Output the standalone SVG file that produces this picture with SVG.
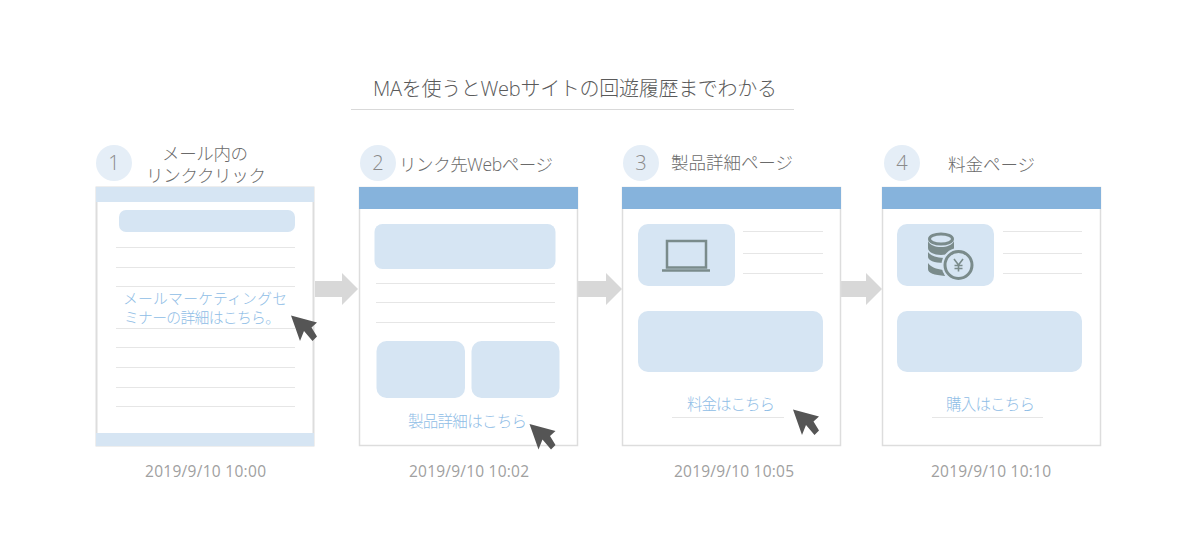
<svg xmlns="http://www.w3.org/2000/svg" width="1200" height="560" viewBox="0 0 1200 560">
<style>
text{font-family:"Open Sans","Noto Sans CJK JP","Noto Sans",sans-serif;font-weight:300}
.title{font-size:20px;fill:#5a5a5a}
.label{font-size:17.500px;fill:#6a6a6a}
.num{font-size:20px;fill:#8a8a8a;text-anchor:middle}
.link{font-size:15.500px;fill:#8fbde6}
.link2{font-size:14.800px;fill:#8fbde6}
.date{font-size:15.500px;fill:#a0a0a0;font-weight:400}
.frame{fill:#fff;stroke:#ddd;stroke-width:1.500}
.hd{fill:#86b3dc}
.pale{fill:#d6e5f3}
.line{stroke:#e6e6e6;stroke-width:1;fill:none}
.badge{fill:#e5eef7}
.arrow{fill:#d8d8d8}
.cursor{fill:#555}
.icon{fill:none;stroke:#7a8b8b;stroke-width:2.500}
</style>
<defs>
<polygon id="cur" class="cursor" points="291,315.500 317,322.500 311.500,327.500 317,336.500 312.500,341 304,331 300,341"/>
</defs>

<g id="title">
<text class="title" x="373" y="96" textLength="404" lengthAdjust="spacing">MAを使うとWebサイトの回遊履歴までわかる</text>
<line x1="351" y1="109.500" x2="794" y2="109.500" stroke="#d9d9d9"/>
</g>

<g id="connectors">
<polygon class="arrow" points="315,281 342,281 342,273 358,289 342,305 342,297 315,297"/>
<polygon class="arrow" points="578,281 606,281 606,273 622,289 606,305 606,297 578,297"/>
<polygon class="arrow" points="841,281 866,281 866,273 882,289 866,305 866,297 841,297"/>
</g>

<g id="node1">
<circle class="badge" cx="114" cy="163" r="18"/>
<text class="num" x="114" y="170">1</text>
<text class="label" x="162" y="160" textLength="86">メール内の</text>
<text class="label" x="146" y="182" textLength="120">リンククリック</text>
<rect class="frame" x="96.500" y="187.500" width="217" height="258" style="stroke-width:2"/>
<rect class="pale" x="96" y="187" width="218" height="15"/>
<rect class="pale" x="96" y="433" width="218" height="13"/>
<rect class="pale" x="119" y="210" width="176" height="22" rx="7"/>
<path class="line" d="M116 247.500H295M116 267.500H295M116 286.500H295M116 328.500H295M116 347.500H295M116 367.500H295M116 387.500H295M116 406.500H295"/>
<text class="link2" x="123" y="303.500" textLength="164">メールマーケティングセ</text>
<text class="link2" x="124" y="322.500" textLength="156">ミナーの詳細はこちら。</text>
<use href="#cur"/>
<text class="date" x="145" y="477" textLength="121">2019/9/10 10:00</text>
</g>

<g id="node2">
<circle class="badge" cx="378" cy="163" r="18"/>
<text class="num" x="378" y="170">2</text>
<text class="label" x="399" y="171" textLength="154">リンク先Webページ</text>
<rect class="frame" x="359.500" y="187.500" width="218" height="258"/>
<rect class="hd" x="359" y="187" width="219" height="22"/>
<rect class="pale" x="374.500" y="224" width="181" height="45" rx="8"/>
<path class="line" d="M376 283.500H555M376 302.500H555M376 322.500H555"/>
<rect class="pale" x="376.500" y="341" width="88.500" height="57" rx="10"/>
<rect class="pale" x="471.500" y="341" width="88" height="57" rx="10"/>
<text class="link" x="408" y="427" textLength="119">製品詳細はこちら</text>
<use href="#cur" transform="translate(238.500,108.500)"/>
<text class="date" x="409" y="477" textLength="120">2019/9/10 10:02</text>
</g>

<g id="node3">
<circle class="badge" cx="641" cy="163" r="18"/>
<text class="num" x="641" y="170">3</text>
<text class="label" x="671" y="169" textLength="122">製品詳細ページ</text>
<rect class="frame" x="622.500" y="187.500" width="218" height="258"/>
<rect class="hd" x="622" y="187" width="219" height="22"/>
<rect class="pale" x="638" y="224" width="97" height="62" rx="10"/>
<path class="line" d="M743 231.500H823M743 253.500H823M743 273.500H823"/>
<rect class="icon" x="667" y="241" width="39" height="26.500"/>
<line class="icon" x1="662" y1="270.500" x2="710" y2="270.500"/>
<rect class="pale" x="638" y="311" width="185" height="61" rx="10"/>
<text class="link" x="687" y="410" textLength="88">料金はこちら</text>
<line class="line" x1="672" y1="417.500" x2="784" y2="417.500"/>
<use href="#cur" transform="translate(502,94)"/>
<text class="date" x="674" y="477" textLength="120">2019/9/10 10:05</text>
</g>

<g id="node4">
<circle class="badge" cx="902" cy="163" r="18"/>
<text class="num" x="902" y="170">4</text>
<text class="label" x="948" y="171" textLength="87">料金ページ</text>
<rect class="frame" x="882.500" y="187.500" width="218" height="258"/>
<rect class="hd" x="882" y="187" width="219" height="22"/>
<rect class="pale" x="897" y="224" width="97" height="62" rx="10"/>
<path class="line" d="M1003 231.500H1082M1003 253.500H1082M1003 273.500H1082"/>
<g id="coins">
<ellipse cx="941" cy="239" rx="11.500" ry="5" fill="none" stroke="#7a8b8b" stroke-width="3"/>
<path d="M928 241V248C928 252 934 255 941 255C948 255 954 252 954 248V241C952 245 947 247 941 247C935 247 930 245 928 241Z" fill="#7a8b8b"/>
<path d="M928 252V257C928 260 934 263 944 263L947 258C937 258 931 256 928 252Z" fill="#7a8b8b"/>
<path d="M928 263V269C928 273 934 275 945 276L943 270C936 269 931 267 928 263Z" fill="#7a8b8b"/>
<circle cx="958.500" cy="265" r="17" fill="#d6e5f3"/>
<circle cx="958.500" cy="265" r="13.500" fill="none" stroke="#7a8b8b" stroke-width="3"/>
<path d="M954 259L958.500 265L963 259M958.500 265V271.500M954.500 265.500H962.500M954.500 268.500H962.500" fill="none" stroke="#7a8b8b" stroke-width="1.600"/>
</g>
<rect class="pale" x="897" y="311" width="185" height="61" rx="10"/>
<text class="link" x="946" y="410" textLength="89">購入はこちら</text>
<line class="line" x1="932" y1="417.500" x2="1043" y2="417.500"/>
<text class="date" x="931" y="477" textLength="120">2019/9/10 10:10</text>
</g>
</svg>
